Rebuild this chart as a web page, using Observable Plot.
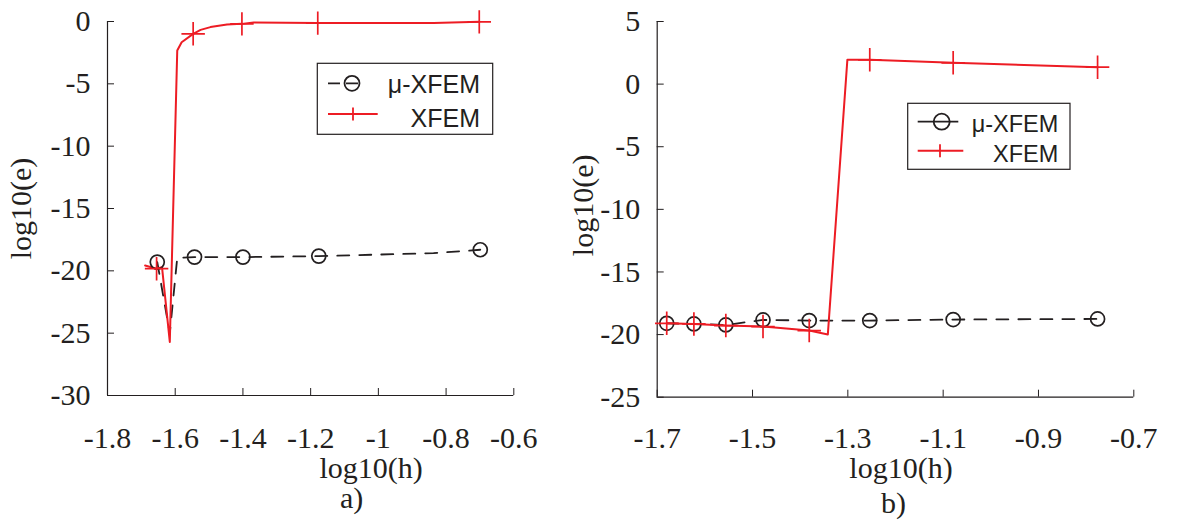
<!DOCTYPE html>
<html><head><meta charset="utf-8">
<script src="https://cdn.jsdelivr.net/npm/d3@7"></script>
<script src="https://cdn.jsdelivr.net/npm/@observablehq/plot@0.6"></script>
<style>
html,body{margin:0;padding:0;background:#fff;}
#fig{position:relative;width:1180px;height:527px;overflow:hidden;background:#fff;}
#fig > svg{position:absolute;top:0;}
</style></head><body><div id="fig"></div>
<script>
// ---- labels ----
const seriesNames = ["μ-XFEM", "XFEM"];
const xLabel = "log10(h)";
const yLabel = "log10(e)";
const panelTags = ["a)", "b)"];

// ---- panel a ----
const aXTicks = [-1.8, -1.6, -1.4, -1.2, -1, -0.8, -0.6];
const aYTicks = [0, -5, -10, -15, -20, -25, -30];
const aMuX = [-1.653, -1.616, -1.594, -1.543, -1.400, -1.176, -0.837, -0.699];
const aMuY = [-19.3, -25.0, -18.95, -18.9, -18.9, -18.82, -18.58, -18.31];
const aMuMark = [1, 0, 0, 1, 1, 1, 0, 1];
const aXfX = [-1.689, -1.655, -1.639, -1.616, -1.594, -1.581, -1.547, -1.525, -1.496, -1.447, -1.403, -1.368, -1.179, -0.837, -0.702];
const aXfY = [-19.57, -19.83, -19.70, -25.7, -2.33, -1.66, -0.99, -0.67, -0.45, -0.24, -0.19, -0.08, -0.13, -0.13, -0.03];
const aXfMark = [0, 1, 0, 0, 0, 0, 1, 0, 0, 0, 1, 0, 1, 0, 1];

// ---- panel b ----
const bXTicks = [-1.7, -1.5, -1.3, -1.1, -0.9, -0.7];
const bYTicks = [5, 0, -5, -10, -15, -20, -25];
const bMuX = [-1.680, -1.623, -1.556, -1.478, -1.381, -1.254, -1.079, -0.776];
const bMuY = [-19.1, -19.15, -19.23, -18.83, -18.88, -18.88, -18.8, -18.75];
const bMuMark = [1, 1, 1, 1, 1, 1, 1, 1];
const bXfX = [-1.680, -1.623, -1.556, -1.478, -1.381, -1.342, -1.301, -1.254, -1.079, -0.776];
const bXfY = [-19.1, -19.15, -19.28, -19.36, -19.68, -20.0, 1.94, 1.94, 1.70, 1.35];
const bXfMark = [1, 1, 1, 1, 1, 0, 0, 1, 1, 1];

const red = "#ed1c24";
const ink = "#231f20";
const serif = "'Liberation Serif', 'Times New Roman', Times, serif";
const sans = "'Liberation Sans', Arial, Helvetica, sans-serif";

const rows = (xs, ys, ms) => xs.map((x, i) => ({x, y: ys[i], mark: !!ms[i]}));

function panel(cfg) {
  const mu = rows(cfg.muX, cfg.muY, cfg.muMark);
  const xf = rows(cfg.xfX, cfg.xfY, cfg.xfMark);
  const innerW = cfg.width - cfg.ml - cfg.mr;
  const innerH = 527 - cfg.mt - cfg.mb;
  const fmt = d => String(d);
  const txt = {fontSize: 30, fontFamily: serif, fill: ink};
  const svg = Plot.plot({
    width: cfg.width,
    height: 527,
    marginLeft: cfg.ml, marginRight: cfg.mr, marginTop: cfg.mt, marginBottom: cfg.mb,
    style: {background: "transparent", color: ink, overflow: "visible"},
    x: {domain: cfg.xDomain, axis: null},
    y: {domain: cfg.yDomain, axis: null},
    marks: [
      // inward ticks
      Plot.ruleX(cfg.xTicks, {x: d => d, insetTop: innerH - 7, stroke: ink, strokeWidth: 1}),
      Plot.ruleY(cfg.yTicks, {y: d => d, insetRight: innerW - 7, stroke: ink, strokeWidth: 1}),
      // axis lines
      Plot.ruleX([cfg.xDomain[0]], {stroke: ink, strokeWidth: 1.2}),
      Plot.ruleY([cfg.yDomain[0]], {stroke: ink, strokeWidth: 1.2}),
      // tick labels
      Plot.text(cfg.xTicks, {x: d => d, text: fmt, frameAnchor: "bottom", lineAnchor: "top", textAnchor: "middle", dy: cfg.xPad, ...txt}),
      Plot.text(cfg.yTicks, {y: d => d, text: fmt, frameAnchor: "left", lineAnchor: "middle", textAnchor: "end", dx: -17, ...txt}),
      // data
      Plot.line(mu, {x: "x", y: "y", stroke: ink, strokeWidth: 1.8, strokeDasharray: "12,10"}),
      Plot.line(xf, {x: "x", y: "y", stroke: red, strokeWidth: 2}),
      Plot.dot(mu.filter(d => d.mark), {x: "x", y: "y", r: 7, symbol: "circle", stroke: ink, strokeWidth: 1.7, fill: "none"}),
      Plot.dot(xf.filter(d => d.mark), {x: "x", y: "y", r: 7.6, symbol: "plus", stroke: red, strokeWidth: 1.7}),
      // axis titles
      Plot.text([xLabel], {text: d => d, frameAnchor: "bottom", lineAnchor: "middle", textAnchor: "middle", dx: cfg.xlDx, dy: cfg.xlDy, ...txt}),
      Plot.text([cfg.tag], {text: d => d, frameAnchor: "bottom", lineAnchor: "middle", textAnchor: "middle", dx: cfg.tagDx, dy: cfg.tagDy, ...txt}),
      Plot.text([yLabel], {text: d => d, frameAnchor: "left", lineAnchor: "middle", textAnchor: "middle", rotate: -90, dx: cfg.ylDx, dy: cfg.ylDy, ...txt})
    ]
  });
  svg.style.left = cfg.left + "px";
  // force the serif face on every text that Plot drew
  d3.select(svg).selectAll("text").attr("font-family", serif).style("font-family", serif);
  // legend
  const L = cfg.legend;
  const g = d3.select(svg).append("g");
  g.append("rect").attr("x", L.x0).attr("y", L.y0).attr("width", L.x1 - L.x0).attr("height", L.y1 - L.y0)
    .attr("fill", "white").attr("stroke", ink).attr("stroke-width", 1.2);
  // row 1: mu-XFEM
  g.append("line").attr("x1", L.lx).attr("x2", L.l1x2).attr("y1", L.r1).attr("y2", L.r1)
    .attr("stroke", ink).attr("stroke-width", 1.8).attr("stroke-dasharray", L.dash);
  g.append("circle").attr("cx", L.mx1).attr("cy", L.r1).attr("r", L.cr).attr("fill", "none").attr("stroke", ink).attr("stroke-width", 1.8);
  g.append("text").attr("x", L.tx).attr("y", L.b1).attr("text-anchor", "end").attr("font-family", sans).style("font-family", sans)
    .attr("font-size", L.fs).attr("fill", ink).text(seriesNames[0]);
  // row 2: XFEM
  g.append("line").attr("x1", L.lx).attr("x2", L.l2x2).attr("y1", L.r2).attr("y2", L.r2)
    .attr("stroke", red).attr("stroke-width", 2);
  g.append("line").attr("x1", L.mx2).attr("x2", L.mx2).attr("y1", L.r2 - 6.5).attr("y2", L.r2 + 6.5)
    .attr("stroke", red).attr("stroke-width", 1.8);
  g.append("text").attr("x", L.tx).attr("y", L.b2).attr("text-anchor", "end").attr("font-family", sans).style("font-family", sans)
    .attr("font-size", L.fs).attr("fill", ink).text(seriesNames[1]);
  return svg;
}

const fig = document.getElementById("fig");
fig.appendChild(panel({
  left: 0, width: 560, ml: 107, mr: 46.7, mt: 21, mb: 132,
  xDomain: [-1.8, -0.6], yDomain: [-30, 0], xTicks: aXTicks, yTicks: aYTicks,
  muX: aMuX, muY: aMuY, muMark: aMuMark, xfX: aXfX, xfY: aXfY, xfMark: aXfMark,
  xPad: 31, tag: panelTags[0],
  xlDx: 60.5, xlDy: 72.5, tagDx: 41, tagDy: 103, ylDx: -86, ylDy: 0,
  legend: {x0: 317.3, y0: 63.3, x1: 492.7, y1: 134.3, lx: 328, l1x2: 362, l2x2: 377.7,
           r1: 83.3, r2: 114, mx1: 352, mx2: 353, cr: 7.5, tx: 480, b1: 93.3, b2: 126.7, fs: 25, dash: "12,6"}
}));
fig.appendChild(panel({
  left: 560, width: 620, ml: 96.7, mr: 46.7, mt: 21, mb: 130.3,
  xDomain: [-1.7, -0.7], yDomain: [-25, 5], xTicks: bXTicks, yTicks: bYTicks,
  muX: bMuX, muY: bMuY, muMark: bMuMark, xfX: bXfX, xfY: bXfY, xfMark: bXfMark,
  xPad: 29.3, tag: panelTags[1],
  xlDx: 5.5, xlDy: 70.7, tagDx: -2, tagDy: 106, ylDx: -73.7, ylDy: -4,
  legend: {x0: 347.7, y0: 103.3, x1: 510, y1: 169.3, lx: 357.7, l1x2: 398.3, l2x2: 403.3,
           r1: 121.7, r2: 150.7, mx1: 381.7, mx2: 380, cr: 8, tx: 498.3, b1: 131.7, b2: 161.7, fs: 23.5, dash: null}
}));
</script></body></html>
